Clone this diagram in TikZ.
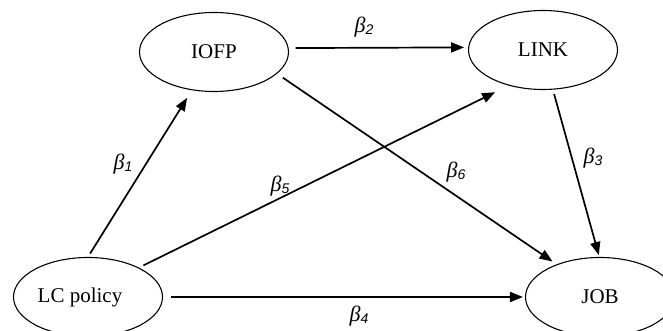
\documentclass[tikz,border=0pt]{standalone}
\usepackage{fontspec}
\setmainfont{Liberation Serif}
\newfontfamily\digfont{Liberation Sans}
\usetikzlibrary{shapes.geometric,arrows.meta}
\newcommand\bet[1]{{\fontsize{22}{24}\selectfont\itshape β}\raisebox{-2.5pt}{\fontsize{14}{16}\selectfont\digfont\itshape #1}}
\tikzset{
  var/.style={draw, ellipse, line width=1.1pt, minimum width=149pt, minimum height=79pt, inner sep=0pt,
    font=\fontsize{21}{24}\selectfont},
  path/.style={line width=1.7pt, -{Triangle[length=13pt,width=10pt]}},
  coef/.style={inner sep=0pt}
}
\begin{document}
\begin{tikzpicture}[x=1pt,y=1pt]
\useasboundingbox (0,0) rectangle (663,331);
\node[var] (iofp) at (214,279) {IOFP};
\node[var] (link) at (543,281) {LINK};
\node[var] (lc) at (88,34) {LC policy\hspace*{16pt}};
\node[var] (job) at (600,34) {JOB};
\draw[path, shorten <=7pt, shorten >=4pt] (iofp.3) -- (link.178.5);
\draw[path, shorten <=4pt, shorten >=9pt] (lc.90) -- (iofp.240);
\draw[path, shorten <=5pt, shorten >=15pt] (lc.30.2) -- (link.226.2);
\draw[path, shorten <=7pt, shorten >=5pt] (iofp.341.6) -- (job.143.3);
\draw[path, shorten <=4.5pt, shorten >=2pt] (link.284) -- (job.91);
\draw[path, shorten <=8pt, shorten >=2pt] (lc.0) -- (job.180);
\node[coef] (b1) at (123,167) {\bet{1}};
\node[coef] (b2) at (364,304) {\bet{2}};
\node[coef] (b3) at (593,173) {\bet{3}};
\node[coef] (b4) at (359,15) {\bet{4}};
\node[coef] (b5) at (280,145) {\bet{5}};
\node[coef] (b6) at (456,159) {\bet{6}};
\end{tikzpicture}
\end{document}
